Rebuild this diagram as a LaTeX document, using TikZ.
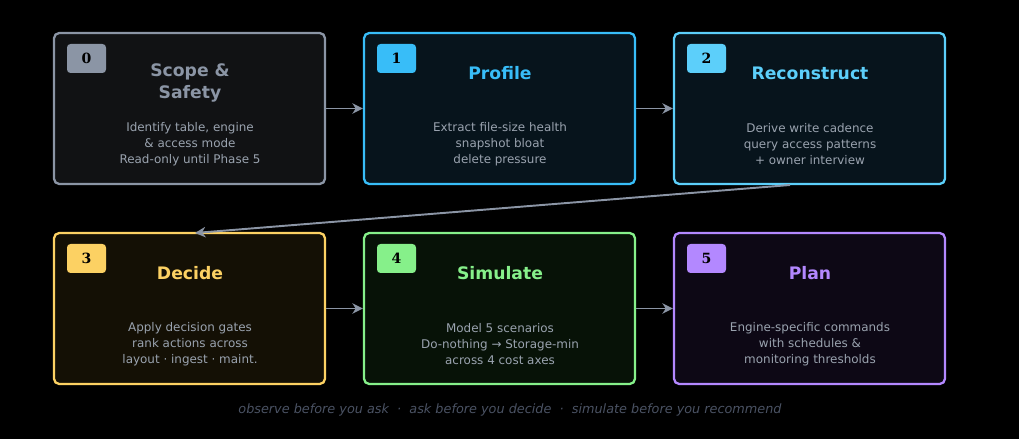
\documentclass[tikz,border=0pt]{standalone}
\usepackage{fontspec}
\setmainfont{DejaVu Sans}
\newfontfamily\badgefont{DejaVu Serif}
\usetikzlibrary{arrows.meta,calc,positioning}
\definecolor{bg}{HTML}{000000}
\definecolor{edge}{HTML}{8B95A5}
\definecolor{body}{HTML}{9AA3AF}
\definecolor{cZero}{HTML}{8B95A5}\definecolor{fZero}{HTML}{111214}
\definecolor{cOne}{HTML}{38BDF8}\definecolor{fOne}{HTML}{07141C}
\definecolor{cTwo}{HTML}{5CCFFA}\definecolor{fTwo}{HTML}{07141C}
\definecolor{cThree}{HTML}{FCD163}\definecolor{fThree}{HTML}{141005}
\definecolor{cFour}{HTML}{86F08A}\definecolor{fFour}{HTML}{071207}
\definecolor{cFive}{HTML}{B388FF}\definecolor{fFive}{HTML}{0D0815}
\definecolor{foot}{HTML}{4A5263}
\tikzset{
  step/.style={draw=#1, line width=1.3pt, rounded corners=3pt, minimum width=271*0.02cm, minimum height=151*0.02cm},
  badge/.style={fill=#1, rounded corners=2pt, minimum width=39*0.02cm, minimum height=29*0.02cm, inner sep=0pt, font=\badgefont\bfseries\fontsize{8}{8}\selectfont},
  title/.style={text=#1, font=\bfseries\fontsize{9.8}{12}\selectfont, align=center},
  txt/.style={text=body, font=\fontsize{6.8}{9}\selectfont, align=center},
  flow/.style={draw=edge, line width=1.1pt, -{Stealth[length=6pt,width=6pt]}}
}
\begin{document}
\begin{tikzpicture}[x=0.02cm,y=-0.02cm]
\fill[bg] (0,0) rectangle (1019,439);

% first row
\node[step=cZero, fill=fZero] (Box0) at (189.5,108.5) {};
\node[step=cOne, fill=fOne] (Box1) at (499.5,108.5) {};
\node[step=cTwo, fill=fTwo] (Box2) at (809.5,108.5) {};
% second row
\node[step=cThree, fill=fThree] (Box3) at (189.5,308.5) {};
\node[step=cFour, fill=fFour] (Box4) at (499.5,308.5) {};
\node[step=cFive, fill=fFive] (Box5) at (809.5,308.5) {};

\node[badge=cZero] (B0) at (86.5,58.5) {0};
\node[badge=cOne] (B1) at (396.5,58.5) {1};
\node[badge=cTwo] (B2) at (706.5,58.5) {2};
\node[badge=cThree] (B3) at (86.5,258.5) {3};
\node[badge=cFour] (B4) at (396.5,258.5) {4};
\node[badge=cFive] (B5) at (706.5,258.5) {5};

\node[title=cZero] (T0) at (190,83) {Scope \&\\Safety};
\node[title=cOne] (T1) at (500,73) {Profile};
\node[title=cTwo] (T2) at (810,73) {Reconstruct};
\node[title=cThree] (T3) at (190,273) {Decide};
\node[title=cFour] (T4) at (500,273) {Simulate};
\node[title=cFive] (T5) at (810,273) {Plan};

\node[txt] (D0) at (190,144) {Identify table, engine\\\& access mode\\Read-only until Phase 5};
\node[txt] (D1) at (500,144) {Extract file-size health\\snapshot bloat\\delete pressure};
\node[txt] (D2) at (810,144) {Derive write cadence\\query access patterns\\+ owner interview};
\node[txt] (D3) at (190,344) {Apply decision gates\\rank actions across\\layout · ingest · maint.};
\node[txt] (D4) at (500,344) {Model 5 scenarios\\Do-nothing → Storage-min\\across 4 cost axes};
\node[txt] (D5) at (810,344) {Engine-specific commands\\with schedules \&\\monitoring thresholds};

\draw[flow] (Box0) -- (Box1);
\draw[flow] (Box1) -- (Box2);
\draw[flow] (Box3) -- (Box4);
\draw[flow] (Box4) -- (Box5);
\coordinate (Out2) at (790,185);
\coordinate (In3) at (195,233);
\draw[flow] (Out2) -- (In3);

\node[text=foot, font=\itshape\fontsize{7.3}{9}\selectfont] (Foot) at (510,410)
  {observe before you ask \ · \ ask before you decide \ · \ simulate before you recommend};
\end{tikzpicture}
\end{document}
